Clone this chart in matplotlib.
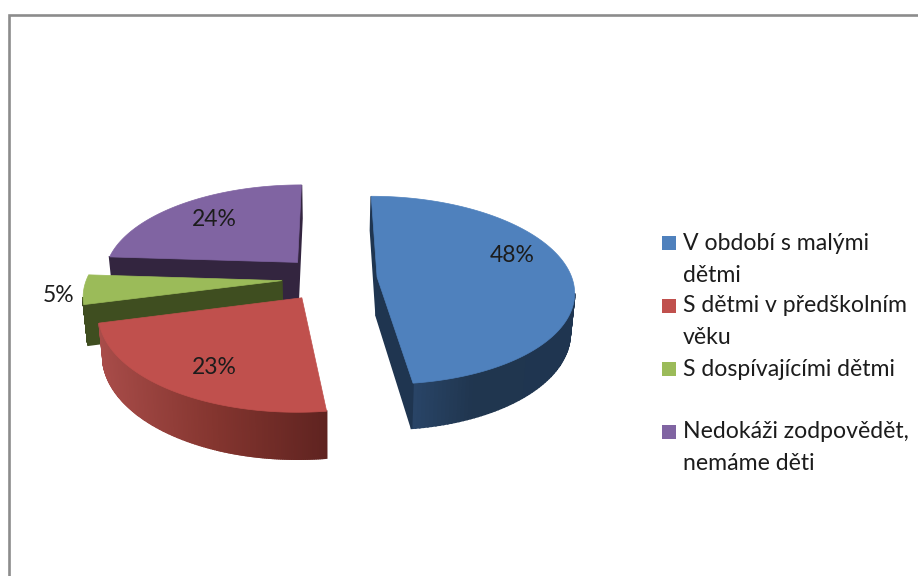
import numpy as np
import matplotlib
matplotlib.use("Agg")
import matplotlib.pyplot as plt
from matplotlib.colors import to_rgb


# Data
categories = [
    "V období s malými\ndětmi",
    "S dětmi v předškolním\nvěku",
    "S dospívajícími dětmi",
    "Nedokáži zodpovědět,\nnemáme děti",
]
values = [48, 23, 5, 24]
value_labels = ["48%", "23%", "5%", "24%"]

# Styles
TOP_COLORS = ["#4F81BD", "#C0504D", "#9BBB59", "#8064A2"]
WALL_COLORS = [
    ["#2F4E78", "#20364F", "#1F3550"],
    ["#A84C49", "#84352F", "#5F2320"],
    ["#3F4E20", "#3F4E20", "#3F4E20"],
    ["#33253F", "#33253F", "#33253F"],
]
CUT_COLORS = ["#1F3550", "#5F2320", "#3F4E20", "#33253F"]
FRAME_COLOR = "#8C8C8C"
TEXT_COLOR = "#1C1C1C"
FONT = "Lato"

# Pie projection, in pixels of the figure
CX, CY = 329.5, 278.5
RX, RY = 195, 92.5
PERSPECTIVE = 0.14
EXPLODE = 0.245
DEPTH = 39
WALL_LEAN = 0.018

LABEL_POS = [(512, 256), (214, 367), (59, 295), (214, 219)]
LEGEND_X = 662
LEGEND_ROWS = [[243, 275], [306, 338], [369], [432, 464]]


def project(x, y):
    s = 1 / (1 + PERSPECTIVE * y)
    return CX + RX * x * s, CY - RY * y * s, s


def wedge_outline(start, end):
    mid = (start + end) / 2
    ox, oy = EXPLODE * np.sin(mid), EXPLODE * np.cos(mid)
    theta = np.linspace(start, end, 160)
    x = np.concatenate([[ox], ox + np.sin(theta)])
    y = np.concatenate([[oy], oy + np.cos(theta)])
    return project(x, y)


def wall_color(stops, t):
    stops = [np.array(to_rgb(c)) for c in stops]
    if t < 0.5:
        return stops[0] + (stops[1] - stops[0]) * t * 2
    return stops[1] + (stops[2] - stops[1]) * (t - 0.5) * 2


def draw_wedge(ax, start, end, top_color, wall_stops, cut_color):
    px, py, s = wedge_outline(start, end)
    n = len(px)
    arc_min, arc_max = px[1:].min(), px[1:].max()

    # Bottom rim of the slice leans slightly towards the pie centre
    bx = px + (CX - px) * WALL_LEAN
    by = py + DEPTH * s

    # Walls are visible where the clockwise outline runs right to left
    for i in range(n):
        j = (i + 1) % n
        if px[j] >= px[i]:
            continue
        if i == 0 or j == 0:
            color = cut_color
        else:
            t = ((px[i] + px[j]) / 2 - arc_min) / max(arc_max - arc_min, 1)
            color = wall_color(wall_stops, t)
        ax.fill(
            [px[i], px[j], bx[j], bx[i]],
            [py[i], py[j], by[j], by[i]],
            facecolor=color,
            edgecolor=color,
            linewidth=1.2,
            zorder=2,
        )

    ax.fill(px, py, facecolor=top_color, edgecolor=top_color, linewidth=0.5, zorder=2)


fig = plt.figure(figsize=(9.18, 5.76), dpi=100, facecolor="white")
ax = fig.add_axes([0, 0, 1, 1])
ax.set_xlim(0, 918)
ax.set_ylim(576, 0)
ax.axis("off")

# Frame is cut off by the picture on the right and at the bottom
ax.plot([8.7, 8.7, 918], [576, 15.3, 15.3], color=FRAME_COLOR, linewidth=1.9,
        solid_joinstyle="miter", zorder=1)

fractions = np.array(values) / sum(values)
edges = np.concatenate([[0], np.cumsum(fractions)]) * 2 * np.pi

# Back to front: purple, green, blue, red
for idx in [3, 2, 0, 1]:
    draw_wedge(ax, edges[idx], edges[idx + 1], TOP_COLORS[idx], WALL_COLORS[idx], CUT_COLORS[idx])

for label, (x, y) in zip(value_labels, LABEL_POS):
    ax.text(x, y, label, ha="center", va="center", fontsize=16.5, family=FONT,
            color=TEXT_COLOR, zorder=3)

for name, rows, color in zip(categories, LEGEND_ROWS, TOP_COLORS):
    ax.fill(
        [LEGEND_X, LEGEND_X + 14, LEGEND_X + 14, LEGEND_X],
        [rows[0] - 7, rows[0] - 7, rows[0] + 7, rows[0] + 7],
        color=color,
        linewidth=0,
        zorder=3,
    )
    for line, y in zip(name.split("\n"), rows):
        ax.text(683, y, line, ha="left", va="center", fontsize=16.6, family=FONT,
                color=TEXT_COLOR, zorder=3)

fig.savefig("out.png", dpi=100)
